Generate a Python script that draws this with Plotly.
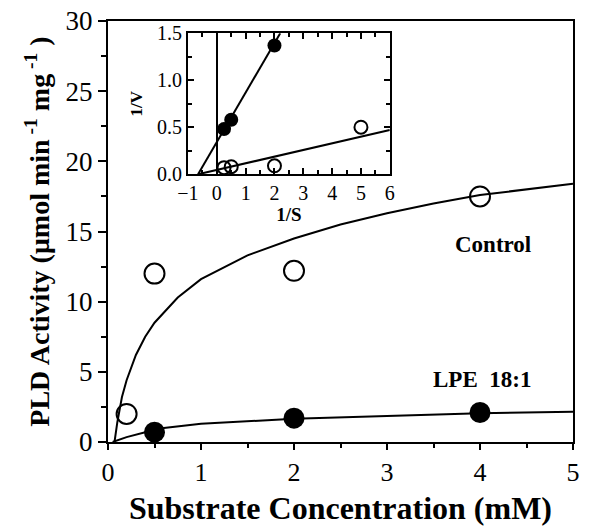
import plotly.graph_objects as go

# Main plot data
control_x = [0.2, 0.5, 2.0, 4.0]
control_y = [2.0, 12.0, 12.2, 17.5]
lpe_x = [0.5, 2.0, 4.0]
lpe_y = [0.7, 1.7, 2.1]

# Fitted curves
control_fit_x = [0.07, 0.1, 0.15, 0.2, 0.3, 0.4, 0.5, 0.75, 1.0, 1.5, 2.0, 2.5, 3.0, 3.5, 4.0, 4.5, 5.0]
control_fit_y = [0.0, 1.4, 3.2, 4.4, 6.2, 7.5, 8.5, 10.3, 11.6, 13.3, 14.5, 15.5, 16.3, 17.0, 17.6, 18.0, 18.4]
lpe_fit_x = [0.05, 0.2, 0.4, 0.6, 1.0, 1.5, 2.0, 3.0, 4.0, 5.0]
lpe_fit_y = [0.0, 0.35, 0.7, 1.0, 1.3, 1.5, 1.65, 1.85, 2.05, 2.15]

# Inset (double reciprocal)
inv_control_x = [0.25, 0.5, 2.0, 5.0]
inv_control_y = [0.07, 0.08, 0.09, 0.5]
inv_lpe_x = [0.25, 0.5, 2.0]
inv_lpe_y = [0.48, 0.58, 1.37]
inv_control_line_x = [-0.65, 6.0]
inv_control_line_y = [0.0, 0.47]
inv_lpe_line_x = [-0.65, 2.2]
inv_lpe_line_y = [0.0, 1.5]

FONT = "Liberation Serif"
BLACK = "black"

fig = go.Figure()

fig.add_trace(go.Scatter(x=control_fit_x, y=control_fit_y, mode="lines",
                         line=dict(color=BLACK, width=2), showlegend=False))
fig.add_trace(go.Scatter(x=lpe_fit_x, y=lpe_fit_y, mode="lines",
                         line=dict(color=BLACK, width=2), showlegend=False))
fig.add_trace(go.Scatter(x=control_x, y=control_y, mode="markers",
                         marker=dict(symbol="circle-open", size=20, color=BLACK,
                                     line=dict(width=2, color=BLACK)),
                         showlegend=False, cliponaxis=False))
fig.add_trace(go.Scatter(x=lpe_x, y=lpe_y, mode="markers",
                         marker=dict(symbol="circle", size=21, color=BLACK),
                         showlegend=False, cliponaxis=False))

# Inset traces
fig.add_trace(go.Scatter(x=inv_control_line_x, y=inv_control_line_y, mode="lines",
                         line=dict(color=BLACK, width=2), xaxis="x2", yaxis="y2",
                         showlegend=False))
fig.add_trace(go.Scatter(x=inv_lpe_line_x, y=inv_lpe_line_y, mode="lines",
                         line=dict(color=BLACK, width=2), xaxis="x2", yaxis="y2",
                         showlegend=False))
fig.add_trace(go.Scatter(x=inv_control_x, y=inv_control_y, mode="markers",
                         marker=dict(symbol="circle-open", size=13, color=BLACK,
                                     line=dict(width=2, color=BLACK)),
                         xaxis="x2", yaxis="y2", showlegend=False, cliponaxis=False))
fig.add_trace(go.Scatter(x=inv_lpe_x, y=inv_lpe_y, mode="markers",
                         marker=dict(symbol="circle", size=14, color=BLACK),
                         xaxis="x2", yaxis="y2", showlegend=False, cliponaxis=False))

W, H = 601, 526
L, R, T, B = 108, 28, 6, 66

fig.update_layout(
    width=W, height=H,
    margin=dict(l=L, r=R, t=T, b=B),
    paper_bgcolor="white", plot_bgcolor="white",
    font=dict(family=FONT, color=BLACK, size=22),
    xaxis=dict(range=[0, 5], tickvals=[0, 1, 2, 3, 4, 5], showgrid=False, zeroline=False,
               showline=True, linecolor=BLACK, linewidth=2, mirror=True,
               ticks="outside", ticklen=6, tickwidth=2, tickcolor=BLACK,
               minor=dict(dtick=0.5, ticks="outside", ticklen=4, tickwidth=2, tickcolor=BLACK),
               tickfont=dict(size=26),
               title=dict(text="<b>Substrate Concentration (mM)</b>", font=dict(size=32), standoff=10)),
    yaxis=dict(range=[0, 30], tickvals=[0, 5, 10, 15, 20, 25, 30], showgrid=False, zeroline=False,
               showline=True, linecolor=BLACK, linewidth=2, mirror=True,
               ticks="outside", ticklen=8, tickwidth=2, tickcolor=BLACK,
               minor=dict(dtick=2.5, ticks="outside", ticklen=5, tickwidth=2, tickcolor=BLACK),
               tickfont=dict(size=27),
               title=dict(text="<b>PLD Activity (μmol min<sup> -1</sup> mg<sup> -1</sup> )</b>",
                          font=dict(size=28), standoff=8)),
    xaxis2=dict(domain=[0.172, 0.606], anchor="y2", range=[-1, 6], tickvals=list(range(-1, 7)),
                showgrid=False, zeroline=True, zerolinecolor=BLACK, zerolinewidth=2,
                showline=True, linecolor=BLACK, linewidth=2, mirror="allticks",
                ticks="inside", ticklen=6, tickwidth=2, tickcolor=BLACK,
                minor=dict(dtick=0.5, ticks="inside", ticklen=4, tickwidth=2, tickcolor=BLACK),
                tickfont=dict(size=20),
                title=dict(text="<b>1/S</b>", font=dict(size=19), standoff=4)),
    yaxis2=dict(domain=[0.636, 0.971], anchor="x2", range=[0, 1.5], tickvals=[0, 0.5, 1.0, 1.5],
                tickformat=".1f", showgrid=False, zeroline=False,
                showline=True, linecolor=BLACK, linewidth=2, mirror="allticks",
                ticks="inside", ticklen=6, tickwidth=2, tickcolor=BLACK,
                minor=dict(dtick=0.25, ticks="inside", ticklen=4, tickwidth=2, tickcolor=BLACK),
                tickfont=dict(size=20),
                title=dict(text="<b>1/V</b>", font=dict(size=17), standoff=10)),
    annotations=[
        dict(x=4.14, y=14.07, xref="x", yref="y", text="<b>Control</b>", showarrow=False,
             font=dict(size=23, family=FONT)),
        dict(x=4.02, y=4.43, xref="x", yref="y", text="<b>LPE  18:1</b>", showarrow=False,
             font=dict(size=23, family=FONT)),
    ],
)

fig.write_html("out.html")
